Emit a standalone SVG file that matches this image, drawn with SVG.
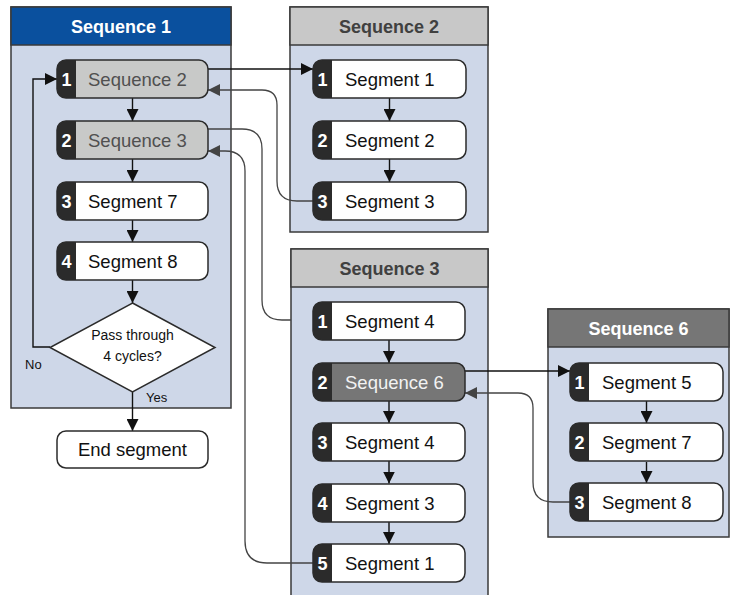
<svg xmlns="http://www.w3.org/2000/svg" width="734" height="595" viewBox="0 0 734 595">
<defs>
<style>
.panel{fill:#ced7e8;stroke:#3a3a3a;stroke-width:1.5}
.hdr1{fill:#0a509e;stroke:#3a3a3a;stroke-width:1.5}
.hdr2{fill:#c8c8c8;stroke:#3a3a3a;stroke-width:1.5}
.hdr6{fill:#767676;stroke:#3a3a3a;stroke-width:1.5}
.ht{font-family:"Liberation Sans",Arial,sans-serif;font-weight:bold;font-size:18px;text-anchor:middle}
.badge{fill:#2b2b2b}
.wbody{fill:#ffffff}
.gbody{fill:#c8c9c8}
.dbody{fill:#767676}
.outline{fill:none;stroke:#2b2b2b;stroke-width:1.5}
.num{font-family:"Liberation Sans",Arial,sans-serif;font-weight:bold;font-size:18px;fill:#ffffff;text-anchor:middle}
.nt{font-family:"Liberation Sans",Arial,sans-serif;font-size:18.5px;fill:#111111}
.gt{fill:#505050}
.dt{fill:#f2f2f2}
.small{font-family:"Liberation Sans",Arial,sans-serif;font-size:14px;fill:#111111}
.lbl{font-family:"Liberation Sans",Arial,sans-serif;font-size:13px;fill:#111111}
.c{fill:none;stroke:#111111;stroke-width:1.4}
.cg{fill:none;stroke:#444444;stroke-width:1.3}
</style>
<marker id="ah" markerUnits="userSpaceOnUse" markerWidth="12" markerHeight="12" refX="12" refY="6" orient="auto"><path d="M0,0 L12,6 L0,12 Z" fill="#111111"/></marker>
<marker id="ahg" markerUnits="userSpaceOnUse" markerWidth="12" markerHeight="12" refX="12" refY="6" orient="auto"><path d="M0,0 L12,6 L0,12 Z" fill="#444444"/></marker>
</defs>

<!-- Panels -->
<g id="seq1-panel">
<rect class="panel" x="11" y="7" width="220" height="401"/>
<rect class="hdr1" x="11" y="7" width="220" height="38"/>
<text class="ht" x="121" y="32.5" fill="#ffffff">Sequence 1</text>
</g>
<g id="seq2-panel">
<rect class="panel" x="290" y="7" width="198" height="225"/>
<rect class="hdr2" x="290" y="7" width="198" height="38"/>
<text class="ht" x="389" y="32.5" fill="#404040">Sequence 2</text>
</g>
<g id="seq3-panel">
<rect class="panel" x="291" y="249" width="197" height="360"/>
<rect class="hdr2" x="291" y="249" width="197" height="38"/>
<text class="ht" x="389.5" y="274.5" fill="#404040">Sequence 3</text>
</g>
<g id="seq6-panel">
<rect class="panel" x="548" y="309" width="181" height="228"/>
<rect class="hdr6" x="548" y="309" width="181" height="38"/>
<text class="ht" x="638.5" y="334.5" fill="#ffffff">Sequence 6</text>
</g>

<!-- Connectors -->
<g id="connectors">
<path class="c" d="M132.5,98 V121" marker-end="url(#ah)"/>
<path class="c" d="M132.5,159 V182" marker-end="url(#ah)"/>
<path class="c" d="M132.5,219.5 V242" marker-end="url(#ah)"/>
<path class="c" d="M132.5,279.5 V303" marker-end="url(#ah)"/>
<path class="c" d="M132.5,392 V431" marker-end="url(#ah)"/>
<path class="c" d="M50,347 H33 V79 H57" marker-end="url(#ah)"/>
<path class="c" d="M389.5,98 V121" marker-end="url(#ah)"/>
<path class="c" d="M389.5,159 V182" marker-end="url(#ah)"/>
<path class="c" d="M389,340 V363" marker-end="url(#ah)"/>
<path class="c" d="M389,401 V423" marker-end="url(#ah)"/>
<path class="c" d="M389,461 V483.5" marker-end="url(#ah)"/>
<path class="c" d="M389,522 V544" marker-end="url(#ah)"/>
<path class="c" d="M646.5,401 V423" marker-end="url(#ah)"/>
<path class="c" d="M646.5,462 V483" marker-end="url(#ah)"/>
<path class="c" d="M208,69 H313" marker-end="url(#ah)"/>
<path class="c" d="M465,371 H570" marker-end="url(#ah)"/>
<path class="cg" d="M313,201 H297 Q277,201 277,181 V105 Q277,90 262,90 H208" marker-end="url(#ahg)"/>
<path class="cg" d="M208,129 H242 Q262,129 262,149 V300 Q262,320 282,320 H291"/>
<path class="cg" d="M313,563 H267 Q245,563 245,541 V171 Q245,151 225,151 H208" marker-end="url(#ahg)"/>
<path class="cg" d="M570,502 H553 Q533,502 533,482 V408 Q533,393 518,393 H465" marker-end="url(#ahg)"/>
</g>

<!-- Sequence 1 nodes -->
<g id="s1-n1">
<rect class="badge" x="57" y="60" width="151" height="38" rx="9"/>
<path class="gbody" d="M76,60 H199 A9,9 0 0 1 208,69 V89 A9,9 0 0 1 199,98 H76 Z"/>
<rect class="outline" x="57" y="60" width="151" height="38" rx="9"/>
<text class="num" x="66.5" y="85.5">1</text>
<text class="nt gt" x="88" y="86">Sequence 2</text>
</g>
<g id="s1-n2">
<rect class="badge" x="57" y="121" width="151" height="38" rx="9"/>
<path class="gbody" d="M76,121 H199 A9,9 0 0 1 208,130 V150 A9,9 0 0 1 199,159 H76 Z"/>
<rect class="outline" x="57" y="121" width="151" height="38" rx="9"/>
<text class="num" x="66.5" y="146.5">2</text>
<text class="nt gt" x="88" y="147">Sequence 3</text>
</g>
<g id="s1-n3">
<rect class="badge" x="57" y="182" width="151" height="38" rx="9"/>
<path class="wbody" d="M76,182 H199 A9,9 0 0 1 208,191 V211 A9,9 0 0 1 199,220 H76 Z"/>
<rect class="outline" x="57" y="182" width="151" height="38" rx="9"/>
<text class="num" x="66.5" y="207.5">3</text>
<text class="nt" x="88" y="208">Segment 7</text>
</g>
<g id="s1-n4">
<rect class="badge" x="57" y="242" width="151" height="38" rx="9"/>
<path class="wbody" d="M76,242 H199 A9,9 0 0 1 208,251 V271 A9,9 0 0 1 199,280 H76 Z"/>
<rect class="outline" x="57" y="242" width="151" height="38" rx="9"/>
<text class="num" x="66.5" y="267.5">4</text>
<text class="nt" x="88" y="268">Segment 8</text>
</g>
<g id="s1-decision">
<path d="M132.5,303 L215,347.5 L132.5,392 L50,347.5 Z" fill="#ffffff" stroke="#2b2b2b" stroke-width="1.5"/>
<text class="small" x="132.5" y="339.5" text-anchor="middle">Pass through</text>
<text class="small" x="132.5" y="361" text-anchor="middle">4 cycles?</text>
</g>
<g id="labels">
<text class="lbl" x="25" y="368.5">No</text>
<text class="lbl" x="146" y="401.5">Yes</text>
</g>
<g id="end-segment">
<rect x="57" y="431" width="151" height="37" rx="9" fill="#ffffff" stroke="#2b2b2b" stroke-width="1.5"/>
<text class="nt" x="132.5" y="456" text-anchor="middle">End segment</text>
</g>

<!-- Sequence 2 nodes -->
<g id="s2-n1">
<rect class="badge" x="313" y="60" width="153" height="38" rx="9"/>
<path class="wbody" d="M332,60 H457 A9,9 0 0 1 466,69 V89 A9,9 0 0 1 457,98 H332 Z"/>
<rect class="outline" x="313" y="60" width="153" height="38" rx="9"/>
<text class="num" x="322.5" y="85.5">1</text>
<text class="nt" x="345" y="86">Segment 1</text>
</g>
<g id="s2-n2">
<rect class="badge" x="313" y="121" width="153" height="38" rx="9"/>
<path class="wbody" d="M332,121 H457 A9,9 0 0 1 466,130 V150 A9,9 0 0 1 457,159 H332 Z"/>
<rect class="outline" x="313" y="121" width="153" height="38" rx="9"/>
<text class="num" x="322.5" y="146.5">2</text>
<text class="nt" x="345" y="147">Segment 2</text>
</g>
<g id="s2-n3">
<rect class="badge" x="313" y="182" width="153" height="38" rx="9"/>
<path class="wbody" d="M332,182 H457 A9,9 0 0 1 466,191 V211 A9,9 0 0 1 457,220 H332 Z"/>
<rect class="outline" x="313" y="182" width="153" height="38" rx="9"/>
<text class="num" x="322.5" y="207.5">3</text>
<text class="nt" x="345" y="208">Segment 3</text>
</g>

<!-- Sequence 3 nodes -->
<g id="s3-n1">
<rect class="badge" x="313" y="302" width="152" height="38" rx="9"/>
<path class="wbody" d="M332,302 H456 A9,9 0 0 1 465,311 V331 A9,9 0 0 1 456,340 H332 Z"/>
<rect class="outline" x="313" y="302" width="152" height="38" rx="9"/>
<text class="num" x="322.5" y="327.5">1</text>
<text class="nt" x="345" y="328">Segment 4</text>
</g>
<g id="s3-n2">
<rect class="badge" x="313" y="363" width="152" height="38" rx="9"/>
<path class="dbody" d="M332,363 H456 A9,9 0 0 1 465,372 V392 A9,9 0 0 1 456,401 H332 Z"/>
<rect class="outline" x="313" y="363" width="152" height="38" rx="9"/>
<text class="num" x="322.5" y="388.5">2</text>
<text class="nt dt" x="345" y="389">Sequence 6</text>
</g>
<g id="s3-n3">
<rect class="badge" x="313" y="423" width="152" height="38" rx="9"/>
<path class="wbody" d="M332,423 H456 A9,9 0 0 1 465,432 V452 A9,9 0 0 1 456,461 H332 Z"/>
<rect class="outline" x="313" y="423" width="152" height="38" rx="9"/>
<text class="num" x="322.5" y="448.5">3</text>
<text class="nt" x="345" y="449">Segment 4</text>
</g>
<g id="s3-n4">
<rect class="badge" x="313" y="484" width="152" height="38" rx="9"/>
<path class="wbody" d="M332,484 H456 A9,9 0 0 1 465,493 V513 A9,9 0 0 1 456,522 H332 Z"/>
<rect class="outline" x="313" y="484" width="152" height="38" rx="9"/>
<text class="num" x="322.5" y="509.5">4</text>
<text class="nt" x="345" y="510">Segment 3</text>
</g>
<g id="s3-n5">
<rect class="badge" x="313" y="544" width="152" height="38" rx="9"/>
<path class="wbody" d="M332,544 H456 A9,9 0 0 1 465,553 V573 A9,9 0 0 1 456,582 H332 Z"/>
<rect class="outline" x="313" y="544" width="152" height="38" rx="9"/>
<text class="num" x="322.5" y="569.5">5</text>
<text class="nt" x="345" y="570">Segment 1</text>
</g>

<!-- Sequence 6 nodes -->
<g id="s6-n1">
<rect class="badge" x="570" y="363" width="153" height="38" rx="9"/>
<path class="wbody" d="M589,363 H714 A9,9 0 0 1 723,372 V392 A9,9 0 0 1 714,401 H589 Z"/>
<rect class="outline" x="570" y="363" width="153" height="38" rx="9"/>
<text class="num" x="579.5" y="388.5">1</text>
<text class="nt" x="602" y="389">Segment 5</text>
</g>
<g id="s6-n2">
<rect class="badge" x="570" y="423" width="153" height="38" rx="9"/>
<path class="wbody" d="M589,423 H714 A9,9 0 0 1 723,432 V452 A9,9 0 0 1 714,461 H589 Z"/>
<rect class="outline" x="570" y="423" width="153" height="38" rx="9"/>
<text class="num" x="579.5" y="448.5">2</text>
<text class="nt" x="602" y="449">Segment 7</text>
</g>
<g id="s6-n3">
<rect class="badge" x="570" y="483" width="153" height="38" rx="9"/>
<path class="wbody" d="M589,483 H714 A9,9 0 0 1 723,492 V512 A9,9 0 0 1 714,521 H589 Z"/>
<rect class="outline" x="570" y="483" width="153" height="38" rx="9"/>
<text class="num" x="579.5" y="508.5">3</text>
<text class="nt" x="602" y="509">Segment 8</text>
</g>
</svg>
